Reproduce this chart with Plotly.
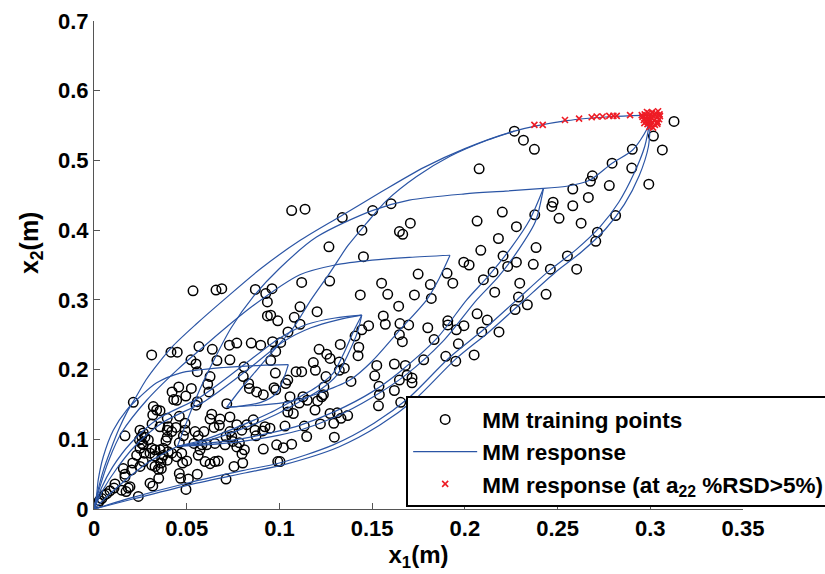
import plotly.graph_objects as go

# ---------------- training points (x1, x2) ----------------
train_x1 = [
    0.2267, 0.2316, 0.2375, 0.2077, 0.3128, 0.3017, 0.3065, 0.2903, 0.2794, 0.29, 0.2992, 0.2688, 0.2677, 0.2779,
    0.2582, 0.2666, 0.2476, 0.2469, 0.2582, 0.2202, 0.2377, 0.2813, 0.2508, 0.2066, 0.2278, 0.2627, 0.1706, 0.2715,
    0.2706, 0.2181, 0.2384, 0.2086, 0.2206, 0.2278, 0.2369, 0.1994, 0.2023, 0.2231, 0.2553, 0.2461, 0.2603, 0.2152,
    0.1748, 0.1904, 0.1814, 0.1935, 0.21, 0.2296, 0.1728, 0.1819, 0.2161, 0.2289, 0.2438, 0.2337, 0.2271, 0.2066,
    0.2121, 0.1908, 0.1908, 0.1995, 0.1954, 0.1697, 0.18, 0.165, 0.2184, 0.2091, 0.1834, 0.1965, 0.205, 0.1897,
    0.1951, 0.1778, 0.1679, 0.1688, 0.1715, 0.1715,
    0.1138, 0.1339, 0.1503, 0.1602, 0.1445, 0.1267, 0.1647, 0.1665, 0.1453, 0.112, 0.1271, 0.1436, 0.1551, 0.1584,
    0.1643, 0.1203, 0.1111, 0.156, 0.1571, 0.1481, 0.1444, 0.1408, 0.1647, 0.1663, 0.1328, 0.1428, 0.1424, 0.1214,
    0.1255, 0.1273, 0.1183, 0.1194, 0.1323, 0.1323, 0.135, 0.112, 0.1525, 0.1514, 0.162, 0.1251, 0.1386, 0.1537,
    0.1539, 0.1647, 0.124, 0.1237, 0.162, 0.1127,
    0.1057, 0.1045, 0.1107, 0.1045, 0.1075, 0.1192, 0.1273, 0.1312, 0.1368, 0.1332, 0.1293, 0.1221, 0.1134, 0.103,
    0.1296, 0.1147, 0.1066, 0.1021, 0.1003, 0.1534, 0.1654, 0.115, 0.1206, 0.1228,
    0.0311, 0.0415, 0.0449, 0.0566, 0.0638, 0.073, 0.077, 0.0848, 0.0899, 0.0963, 0.1007, 0.098, 0.1046, 0.0953,
    0.0523, 0.055, 0.0557, 0.0663, 0.0733, 0.0809, 0.0805, 0.0834, 0.0838, 0.0877, 0.0913, 0.0978, 0.1045, 0.1034,
    0.098, 0.0971, 0.109, 0.0626, 0.0613, 0.062, 0.0525, 0.0421, 0.0457, 0.043, 0.0446, 0.0495, 0.0557, 0.055,
    0.0716, 0.0212, 0.032, 0.0338, 0.0356, 0.0317, 0.0313, 0.0356, 0.0395, 0.04, 0.0395, 0.046, 0.0442, 0.0419,
    0.0395, 0.0388, 0.046, 0.0491, 0.0491, 0.0482, 0.0545, 0.0562, 0.0539, 0.0582, 0.0593, 0.0647, 0.0626, 0.0635,
    0.068, 0.0676, 0.0733, 0.077, 0.0733, 0.0797, 0.0824, 0.0859, 0.0868, 0.0784, 0.0712, 0.0743, 0.0652, 0.0707,
    0.0748, 0.077, 0.0922, 0.0949, 0.0874, 0.091, 0.0811, 0.0798, 0.0913, 0.0985, 0.0991, 0.0755, 0.0802,
    0.0712, 0.0557, 0.0467, 0.0509, 0.0496, 0.0349, 0.0302, 0.0317, 0.0239, 0.0361, 0.0363, 0.0347, 0.0311, 0.0329,
    0.0266, 0.0248, 0.023, 0.0209, 0.0203, 0.0158, 0.0167, 0.0167, 0.0113, 0.0108, 0.0086, 0.0069, 0.0056, 0.0042,
    0.0029, 0.0023, 0.0149, 0.0185, 0.0194, 0.0173, 0.0257, 0.0266, 0.0248, 0.0271, 0.0245, 0.0257, 0.0266, 0.0248,
    0.0275, 0.0293, 0.0311, 0.0329, 0.0302, 0.0329, 0.0356, 0.0374, 0.04, 0.0374, 0.0419, 0.0395, 0.0365, 0.0446,
    0.0473, 0.05, 0.0478, 0.0562, 0.0599, 0.0626, 0.0652, 0.067, 0.0608, 0.0572, 0.046, 0.0167,
    0.1066, 0.0534, 0.0658, 0.0689, 0.087, 0.0926, 0.096, 0.0935, 0.108, 0.1111, 0.0935, 0.0953, 0.0991,
]
train_x2 = [
    0.542, 0.529, 0.516, 0.488, 0.556, 0.535, 0.515, 0.516, 0.496, 0.489, 0.466, 0.478, 0.47, 0.464,
    0.459, 0.447, 0.44, 0.434, 0.435, 0.426, 0.422, 0.421, 0.417, 0.413, 0.405, 0.41, 0.41, 0.397,
    0.384, 0.388, 0.375, 0.371, 0.363, 0.354, 0.351, 0.354, 0.35, 0.348, 0.363, 0.344, 0.344, 0.34,
    0.337, 0.338, 0.322, 0.324, 0.329, 0.324, 0.307, 0.302, 0.311, 0.304, 0.308, 0.293, 0.286, 0.28,
    0.271, 0.27, 0.264, 0.263, 0.257, 0.264, 0.26, 0.266, 0.254, 0.254, 0.243, 0.237, 0.221, 0.219,
    0.212, 0.214, 0.206, 0.192, 0.188, 0.181,
    0.43, 0.418, 0.428, 0.438, 0.4, 0.376, 0.398, 0.394, 0.362, 0.325, 0.327, 0.307, 0.324, 0.308,
    0.291, 0.283, 0.29, 0.277, 0.265, 0.263, 0.257, 0.248, 0.25, 0.24, 0.236, 0.232, 0.22, 0.229,
    0.222, 0.216, 0.21, 0.199, 0.211, 0.199, 0.202, 0.197, 0.206, 0.191, 0.208, 0.19, 0.183, 0.176,
    0.164, 0.185, 0.175, 0.164, 0.17, 0.161,
    0.161, 0.148, 0.152, 0.139, 0.137, 0.142, 0.137, 0.138, 0.134, 0.13, 0.123, 0.122, 0.119, 0.119,
    0.103, 0.104, 0.093, 0.088, 0.068, 0.148, 0.153, 0.156, 0.155, 0.161,
    0.221, 0.225, 0.225, 0.233, 0.229, 0.235, 0.238, 0.238, 0.235, 0.24, 0.239, 0.226, 0.254, 0.213,
    0.214, 0.208, 0.197, 0.213, 0.214, 0.204, 0.19, 0.18, 0.173, 0.168, 0.164, 0.195, 0.185, 0.18,
    0.171, 0.174, 0.197, 0.19, 0.179, 0.168, 0.173, 0.168, 0.175, 0.157, 0.156, 0.162, 0.154, 0.149,
    0.151, 0.153, 0.147, 0.142, 0.141, 0.135, 0.122, 0.118, 0.13, 0.118, 0.113, 0.133, 0.117, 0.111,
    0.103, 0.098, 0.095, 0.123, 0.113, 0.105, 0.111, 0.105, 0.094, 0.092, 0.111, 0.117, 0.129, 0.136,
    0.129, 0.12, 0.132, 0.121, 0.111, 0.113, 0.121, 0.128, 0.113, 0.095, 0.104, 0.104, 0.094, 0.092,
    0.097, 0.089, 0.118, 0.116, 0.105, 0.112, 0.085, 0.079, 0.086, 0.092, 0.068, 0.061, 0.066,
    0.043, 0.05, 0.044, 0.043, 0.028, 0.044, 0.037, 0.033, 0.018, 0.066, 0.058, 0.057, 0.063, 0.061,
    0.068, 0.061, 0.077, 0.066, 0.056, 0.058, 0.05, 0.046, 0.036, 0.03, 0.026, 0.022, 0.02, 0.015,
    0.012, 0.009, 0.027, 0.03, 0.032, 0.025, 0.094, 0.092, 0.087, 0.08, 0.099, 0.104, 0.109, 0.113,
    0.103, 0.099, 0.087, 0.085, 0.08, 0.076, 0.085, 0.077, 0.082, 0.087, 0.08, 0.07, 0.073, 0.075,
    0.08, 0.069, 0.066, 0.077, 0.068, 0.065, 0.068, 0.069, 0.092, 0.085, 0.051, 0.105,
    0.428, 0.313, 0.314, 0.316, 0.315, 0.309, 0.316, 0.297, 0.275, 0.265, 0.277, 0.278, 0.27,
]

# ---------------- MM response curves ----------------
a1_x = [0, 0.002, 0.005, 0.009, 0.0135, 0.018, 0.0225, 0.028, 0.035, 0.043, 0.055, 0.07, 0.09, 0.111, 0.133, 0.155, 0.178, 0.2, 0.2267, 0.255, 0.28, 0.3]
a1_y = [0, 0.025, 0.055, 0.085, 0.115, 0.14, 0.16, 0.185, 0.21, 0.235, 0.265, 0.3, 0.345, 0.385, 0.42, 0.455, 0.49, 0.517, 0.542, 0.557, 0.563, 0.565]
a2_x = [0.0716, 0.08, 0.088, 0.097, 0.1075, 0.117, 0.127, 0.137, 0.147, 0.158, 0.174, 0.192, 0.212, 0.2267]
a2_y = [0.146, 0.175, 0.2, 0.228, 0.26, 0.3, 0.338, 0.378, 0.41, 0.443, 0.477, 0.506, 0.529, 0.542]
a3_x = [0.045, 0.05, 0.056, 0.064, 0.074, 0.086, 0.1, 0.12, 0.15, 0.17, 0.2, 0.222, 0.2424]
a3_y = [0.09, 0.125, 0.165, 0.21, 0.26, 0.305, 0.345, 0.39, 0.428, 0.443, 0.452, 0.456, 0.46]
c67_x = [0.2424, 0.255, 0.2675, 0.2794, 0.2905, 0.298, 0.3]
c67_y = [0.46, 0.463, 0.472, 0.496, 0.515, 0.544, 0.56]
l7a_x = [0, 0.02, 0.05, 0.08, 0.1, 0.129, 0.151, 0.17, 0.192, 0.21, 0.228, 0.246, 0.26, 0.273, 0.283, 0.291, 0.297, 0.3]
l7a_y = [0, 0.016, 0.037, 0.055, 0.066, 0.092, 0.123, 0.16, 0.218, 0.257, 0.3, 0.343, 0.372, 0.405, 0.44, 0.48, 0.52, 0.56]
l7b_x = [0, 0.022, 0.052, 0.082, 0.103, 0.132, 0.154, 0.173, 0.195, 0.213, 0.231, 0.249, 0.263, 0.276, 0.286, 0.294, 0.299, 0.3]
l7b_y = [0, 0.015, 0.035, 0.052, 0.064, 0.089, 0.12, 0.157, 0.215, 0.254, 0.297, 0.34, 0.369, 0.402, 0.437, 0.478, 0.52, 0.56]
l6a_x = [0.045, 0.06, 0.08, 0.1, 0.111, 0.13, 0.15, 0.165, 0.185, 0.201, 0.213, 0.225, 0.235, 0.2424]
l6a_y = [0.09, 0.094, 0.101, 0.112, 0.12, 0.14, 0.168, 0.197, 0.245, 0.3, 0.335, 0.375, 0.415, 0.46]
l6b_x = [0.045, 0.06, 0.08, 0.1, 0.111, 0.13, 0.15, 0.168, 0.188, 0.2064, 0.218, 0.229, 0.238, 0.2424]
l6b_y = [0.09, 0.092, 0.097, 0.106, 0.113, 0.132, 0.16, 0.192, 0.24, 0.3, 0.333, 0.372, 0.412, 0.46]
u5_x = [0, 0.003, 0.008, 0.015, 0.0284, 0.045, 0.06, 0.085, 0.111, 0.13, 0.15, 0.17, 0.192]
u5_y = [0, 0.03, 0.07, 0.11, 0.156, 0.2, 0.235, 0.29, 0.336, 0.35, 0.357, 0.361, 0.364]
l5_x = [0.0716, 0.09, 0.1057, 0.12, 0.138, 0.15, 0.165, 0.1794, 0.186, 0.192]
l5_y = [0.146, 0.149, 0.154, 0.165, 0.185, 0.212, 0.257, 0.3, 0.33, 0.364]
u4a_x = [0, 0.004, 0.01, 0.02, 0.035, 0.057, 0.08, 0.1, 0.115, 0.13, 0.1444]
u4a_y = [0, 0.03, 0.06, 0.095, 0.13, 0.16, 0.205, 0.245, 0.265, 0.274, 0.278]
u4b_x = [0, 0.005, 0.012, 0.022, 0.037, 0.06, 0.083, 0.102, 0.117, 0.131, 0.1444]
u4b_y = [0, 0.028, 0.057, 0.09, 0.124, 0.155, 0.2, 0.24, 0.26, 0.271, 0.278]
l4a_x = [0.1444, 0.14, 0.135, 0.129, 0.12, 0.111, 0.095, 0.075, 0.06, 0.045]
l4a_y = [0.278, 0.255, 0.225, 0.195, 0.175, 0.161, 0.138, 0.115, 0.1, 0.09]
l4b_x = [0.1444, 0.142, 0.137, 0.131, 0.122, 0.113, 0.097, 0.077, 0.061, 0.045]
l4b_y = [0.278, 0.253, 0.222, 0.192, 0.171, 0.157, 0.134, 0.112, 0.098, 0.09]
u3_x = [0, 0.0014, 0.0023, 0.005, 0.0104, 0.0176, 0.0248, 0.0338, 0.0464, 0.07, 0.09, 0.1048]
u3_y = [0, 0.02, 0.042, 0.075, 0.113, 0.142, 0.161, 0.181, 0.195, 0.203, 0.206, 0.207]
l3_x = [0.0716, 0.08, 0.09, 0.098, 0.102, 0.1048]
l3_y = [0.146, 0.148, 0.153, 0.165, 0.185, 0.207]
o1_x = [0, 0.01, 0.02, 0.03, 0.045]
o1_y = [0, 0.025, 0.048, 0.068, 0.09]

curves = [
    (a1_x, a1_y), (a2_x, a2_y), (a3_x, a3_y), (c67_x, c67_y), (l7a_x, l7a_y), (l7b_x, l7b_y),
    (l6a_x, l6a_y), (l6b_x, l6b_y), (u5_x, u5_y), (l5_x, l5_y), (u4a_x, u4a_y), (u4b_x, u4b_y),
    (l4a_x, l4a_y), (l4b_x, l4b_y), (u3_x, u3_y), (l3_x, l3_y), (o1_x, o1_y),
]

# ---------------- MM response points with a22 %RSD > 5% ----------------
rsd_x1 = [0.2375, 0.242, 0.254, 0.2616, 0.2684, 0.2711, 0.2743, 0.2779, 0.2801, 0.2819, 0.2891, 0.2954,
          0.297, 0.299, 0.301, 0.303, 0.305, 0.2975, 0.2995, 0.3015, 0.3035, 0.3048, 0.298, 0.300, 0.302, 0.304,
          0.2985, 0.3005, 0.3025, 0.2995, 0.3015, 0.2965, 0.2992, 0.3028, 0.3042, 0.2982, 0.3008, 0.2968, 0.3002,
          0.3038, 0.3052, 0.2958]
rsd_x2 = [0.551, 0.551, 0.558, 0.56, 0.562, 0.563, 0.563, 0.564, 0.564, 0.564, 0.565, 0.565,
          0.566, 0.568, 0.569, 0.568, 0.566, 0.561, 0.563, 0.564, 0.562, 0.559, 0.556, 0.558, 0.557, 0.555,
          0.552, 0.553, 0.551, 0.548, 0.547, 0.558, 0.5605, 0.5655, 0.5705, 0.5695, 0.5615, 0.5535, 0.5495,
          0.5525, 0.5635, 0.5625]

FONT = "Liberation Sans, Arial, Helvetica, sans-serif"
BLUE = "#2b55a5"
RED = "#ee1c25"

fig = go.Figure()
fig.add_trace(go.Scatter(
    x=train_x1, y=train_x2, mode="markers", name="MM training points",
    marker=dict(symbol="circle-open", size=9.5, color="black", line=dict(width=1.5, color="black")),
))
for i, (cx, cy) in enumerate(curves):
    fig.add_trace(go.Scatter(
        x=cx, y=cy, mode="lines", name="MM response", legendgroup="resp",
        showlegend=(i == 0), line=dict(color=BLUE, width=1.2, shape="spline", smoothing=0.8),
    ))
fig.add_trace(go.Scatter(
    x=rsd_x1, y=rsd_x2, mode="markers", name="MM response (at a<sub>22</sub> %RSD>5%)",
    marker=dict(symbol="x-thin", size=6, color=RED, line=dict(width=1.6, color=RED)),
))

axis_common = dict(
    showline=True, linecolor="#555555", linewidth=1, mirror=False,
    ticks="inside", ticklen=6, tickcolor="#555555", tickwidth=1,
    showgrid=False, zeroline=False,
    tickfont=dict(family=FONT, size=22, color="black", weight="bold"),
)
fig.update_xaxes(range=[0, 0.35], tickvals=[0, 0.05, 0.1, 0.15, 0.2, 0.25, 0.3, 0.35],
                 ticktext=["0", "0.05", "0.1", "0.15", "0.2", "0.25", "0.3", "0.35"],
                 title=dict(text="x<sub>1</sub>(m)", font=dict(family=FONT, size=24, color="black", weight="bold"), standoff=4),
                 **axis_common)
fig.update_yaxes(range=[0, 0.7], tickvals=[0, 0.1, 0.2, 0.3, 0.4, 0.5, 0.6, 0.7],
                 ticktext=["0", "0.1", "0.2", "0.3", "0.4", "0.5", "0.6", "0.7"],
                 **axis_common)

fig.update_layout(
    width=825, height=574,
    margin=dict(l=94, r=82, t=21, b=65, autoexpand=False),
    plot_bgcolor="white", paper_bgcolor="white",
    font=dict(family=FONT, size=22, color="black"),
    legend=dict(
        x=0.481, y=0.231, xanchor="left", yanchor="top",
        bgcolor="white", bordercolor="black", borderwidth=2,
        font=dict(family=FONT, size=22.5, color="black", weight="bold"),
        tracegroupgap=0, itemwidth=64,
    ),
    annotations=[dict(
        text="x<sub>2</sub>(m)", xref="paper", yref="paper", x=-0.097, y=0.545,
        xanchor="center", yanchor="middle", textangle=-90, showarrow=False,
        font=dict(family=FONT, size=25, color="black", weight="bold"),
    )],
)
fig.write_html("out.html")
